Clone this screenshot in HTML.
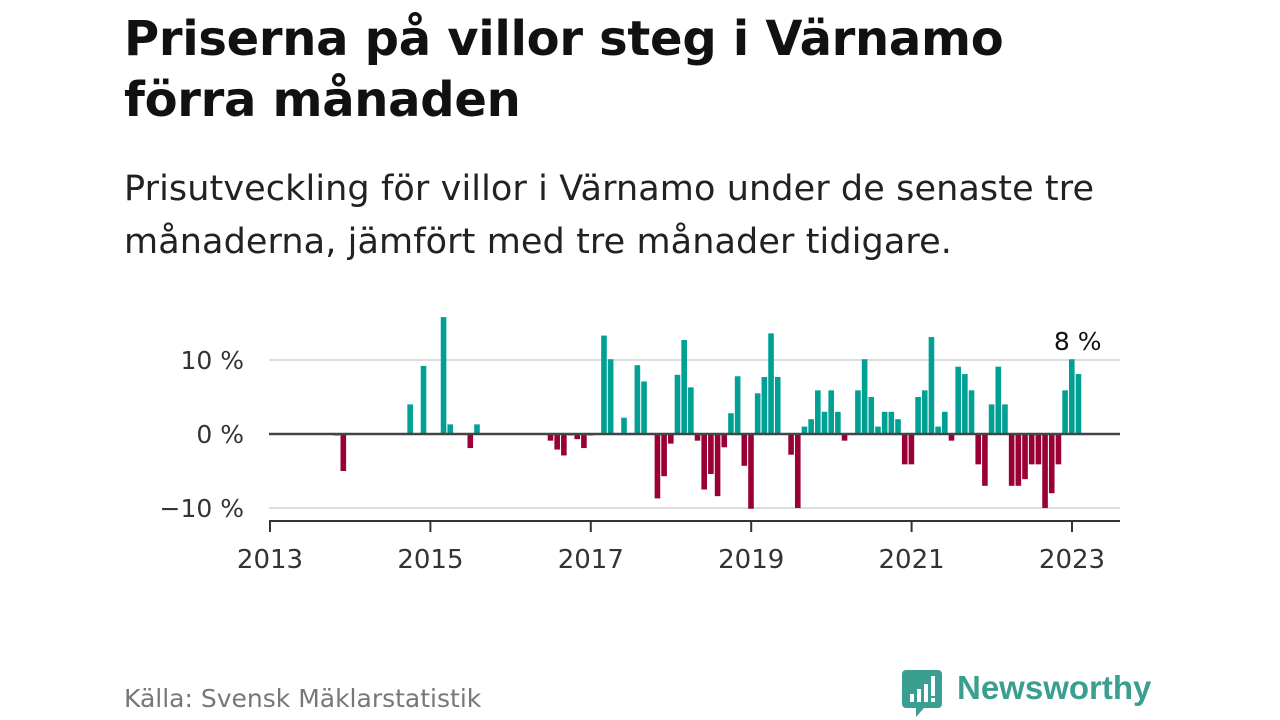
<!DOCTYPE html>
<html><head><meta charset="utf-8">
<style>
body{margin:0;width:1280px;height:720px;background:#fff;font-family:"Liberation Sans","DejaVu Sans",sans-serif;overflow:hidden;position:relative;color:#111}
h1{position:absolute;left:124px;top:9px;margin:0;font-size:48px;line-height:61px;font-weight:bold;color:#111;font-family:"DejaVu Sans","Liberation Sans",sans-serif;letter-spacing:-0.3px}
.sub{position:absolute;left:124px;top:163px;margin:0;font-size:35px;line-height:53px;color:#222;font-family:"DejaVu Sans","Liberation Sans",sans-serif;letter-spacing:0.1px}
.src{position:absolute;left:124px;top:684px;font-size:25px;color:#777;font-family:"DejaVu Sans",sans-serif}
.logo{position:absolute;left:902px;top:670px;}
.logo-text{position:absolute;left:957px;top:669px;font-size:33px;font-weight:bold;color:#3a9e90;font-family:"Liberation Sans",sans-serif}
</style></head><body>
<h1>Priserna på villor steg i Värnamo<br>förra månaden</h1>
<p class="sub">Prisutveckling för villor i Värnamo under de senaste tre<br>månaderna, jämfört med tre månader tidigare.</p>
<svg id="chart" width="1280" height="720" style="position:absolute;left:0;top:0" font-family="DejaVu Sans, Liberation Sans, sans-serif"></svg>
<div class="src">Källa: Svensk Mäklarstatistik</div>
<svg class="logo" width="42" height="48" viewBox="0 0 42 48">
<path d="M4 0h32a4 4 0 0 1 4 4v30a4 4 0 0 1-4 4H22l-8 9v-9H4a4 4 0 0 1-4-4V4a4 4 0 0 1 4-4z" fill="#3a9e90"/>
<rect x="8" y="24" width="4" height="8" fill="#fff"/><rect x="15" y="19" width="4" height="13" fill="#fff"/><rect x="22" y="14" width="4" height="18" fill="#fff"/><rect x="29" y="6" width="4" height="20" fill="#fff"/><rect x="29" y="28" width="4" height="4" fill="#fff"/>
</svg>
<div class="logo-text">Newsworthy</div>
<script>
// month index from 2013-01 (0) ; values in %
const monthIdx = [9,10,20,22,25,26,29,30,41,42,43,44,45,46,47,49,50,52,54,55,57,58,59,60,61,62,63,64,65,66,67,68,69,70,71,72,73,74,75,77,78,79,80,81,82,83,84,85,87,88,89,90,91,92,93,94,95,96,97,98,99,100,101,102,103,104,105,106,107,108,109,110,111,112,113,114,115,116,117,118,119,120];
const values = [-0.2,-5,4,9.2,15.8,1.3,-1.9,1.3,-0.9,-2.1,-2.9,-0.2,-0.7,-1.9,-0.2,13.3,10.1,2.2,9.3,7.1,-8.7,-5.7,-1.3,8.0,12.7,6.3,-0.9,-7.5,-5.4,-8.4,-1.8,2.8,7.8,-4.3,-10.1,5.5,7.7,13.6,7.7,-2.8,-10,1,2,5.9,3,5.9,3,-0.9,5.9,10.1,5,1,3,3,2,-4.1,-4.1,5,5.9,13.1,1,3,-0.9,9.1,8.1,5.9,-4.1,-7,4,9.1,4,-7,-7,-6.1,-4.1,-4.1,-10,-8,-4.1,5.9,10.1,8.1];
const yTicks = [10,0,-10];
const yTickLabels = ["10 %","0 %","\u221210 %"];
const xTickYears = [2013,2015,2017,2019,2021,2023];
const lastLabel = "8 %";

const NS="http://www.w3.org/2000/svg";
const svg=document.getElementById('chart');
const x0=270, perMonth=80.2/12;
const xm=m=>x0+m*perMonth;
const y=v=>434-v*7.4;
function mk(t,a){const e=document.createElementNS(NS,t);for(const k in a)e.setAttribute(k,a[k]);svg.appendChild(e);return e;}
yTicks.forEach((t,i)=>{
  if(t!==0){const g=mk('line',{x1:269,x2:1120,y1:y(t),y2:y(t),stroke:'#ddd','stroke-width':2});
  
  }
  const tx=mk('text',{x:244,y:y(t)+9,'text-anchor':'end','font-size':25,fill:'#333'});
  tx.textContent=yTickLabels[i];
  
  
});
monthIdx.forEach((m,i)=>{
  const v=values[i];
  const r=mk('rect',{x:xm(m+0.55),width:5.6,y:Math.min(y(v),434),height:Math.max(Math.abs(y(v)-434),0.8),fill:v>=0?'#00a094':'#9a0036'});
  
  
});
const z=mk('line',{x1:269,x2:1120,y1:434,y2:434,stroke:'#444','stroke-width':2.5});


const ax=mk('line',{x1:269,x2:1120,y1:521,y2:521,stroke:'#333','stroke-width':2});


xTickYears.forEach(yr=>{
  const xx=xm((yr-2013)*12);
  const tk=mk('line',{x1:xx,x2:xx,y1:521,y2:532,stroke:'#333','stroke-width':2});
  
  
  const tx=mk('text',{x:xx,y:568,'text-anchor':'middle','font-size':26,fill:'#333'});
  tx.textContent=yr;
  
  
});
const lm=monthIdx[monthIdx.length-1];
const lb=mk('text',{x:xm(lm+0.55)+2,y:y(values[values.length-1])-24,'text-anchor':'middle','font-size':25,fill:'#111',stroke:'#fff','stroke-width':5,'paint-order':'stroke'});
lb.textContent=lastLabel;


</script>
</body></html>
